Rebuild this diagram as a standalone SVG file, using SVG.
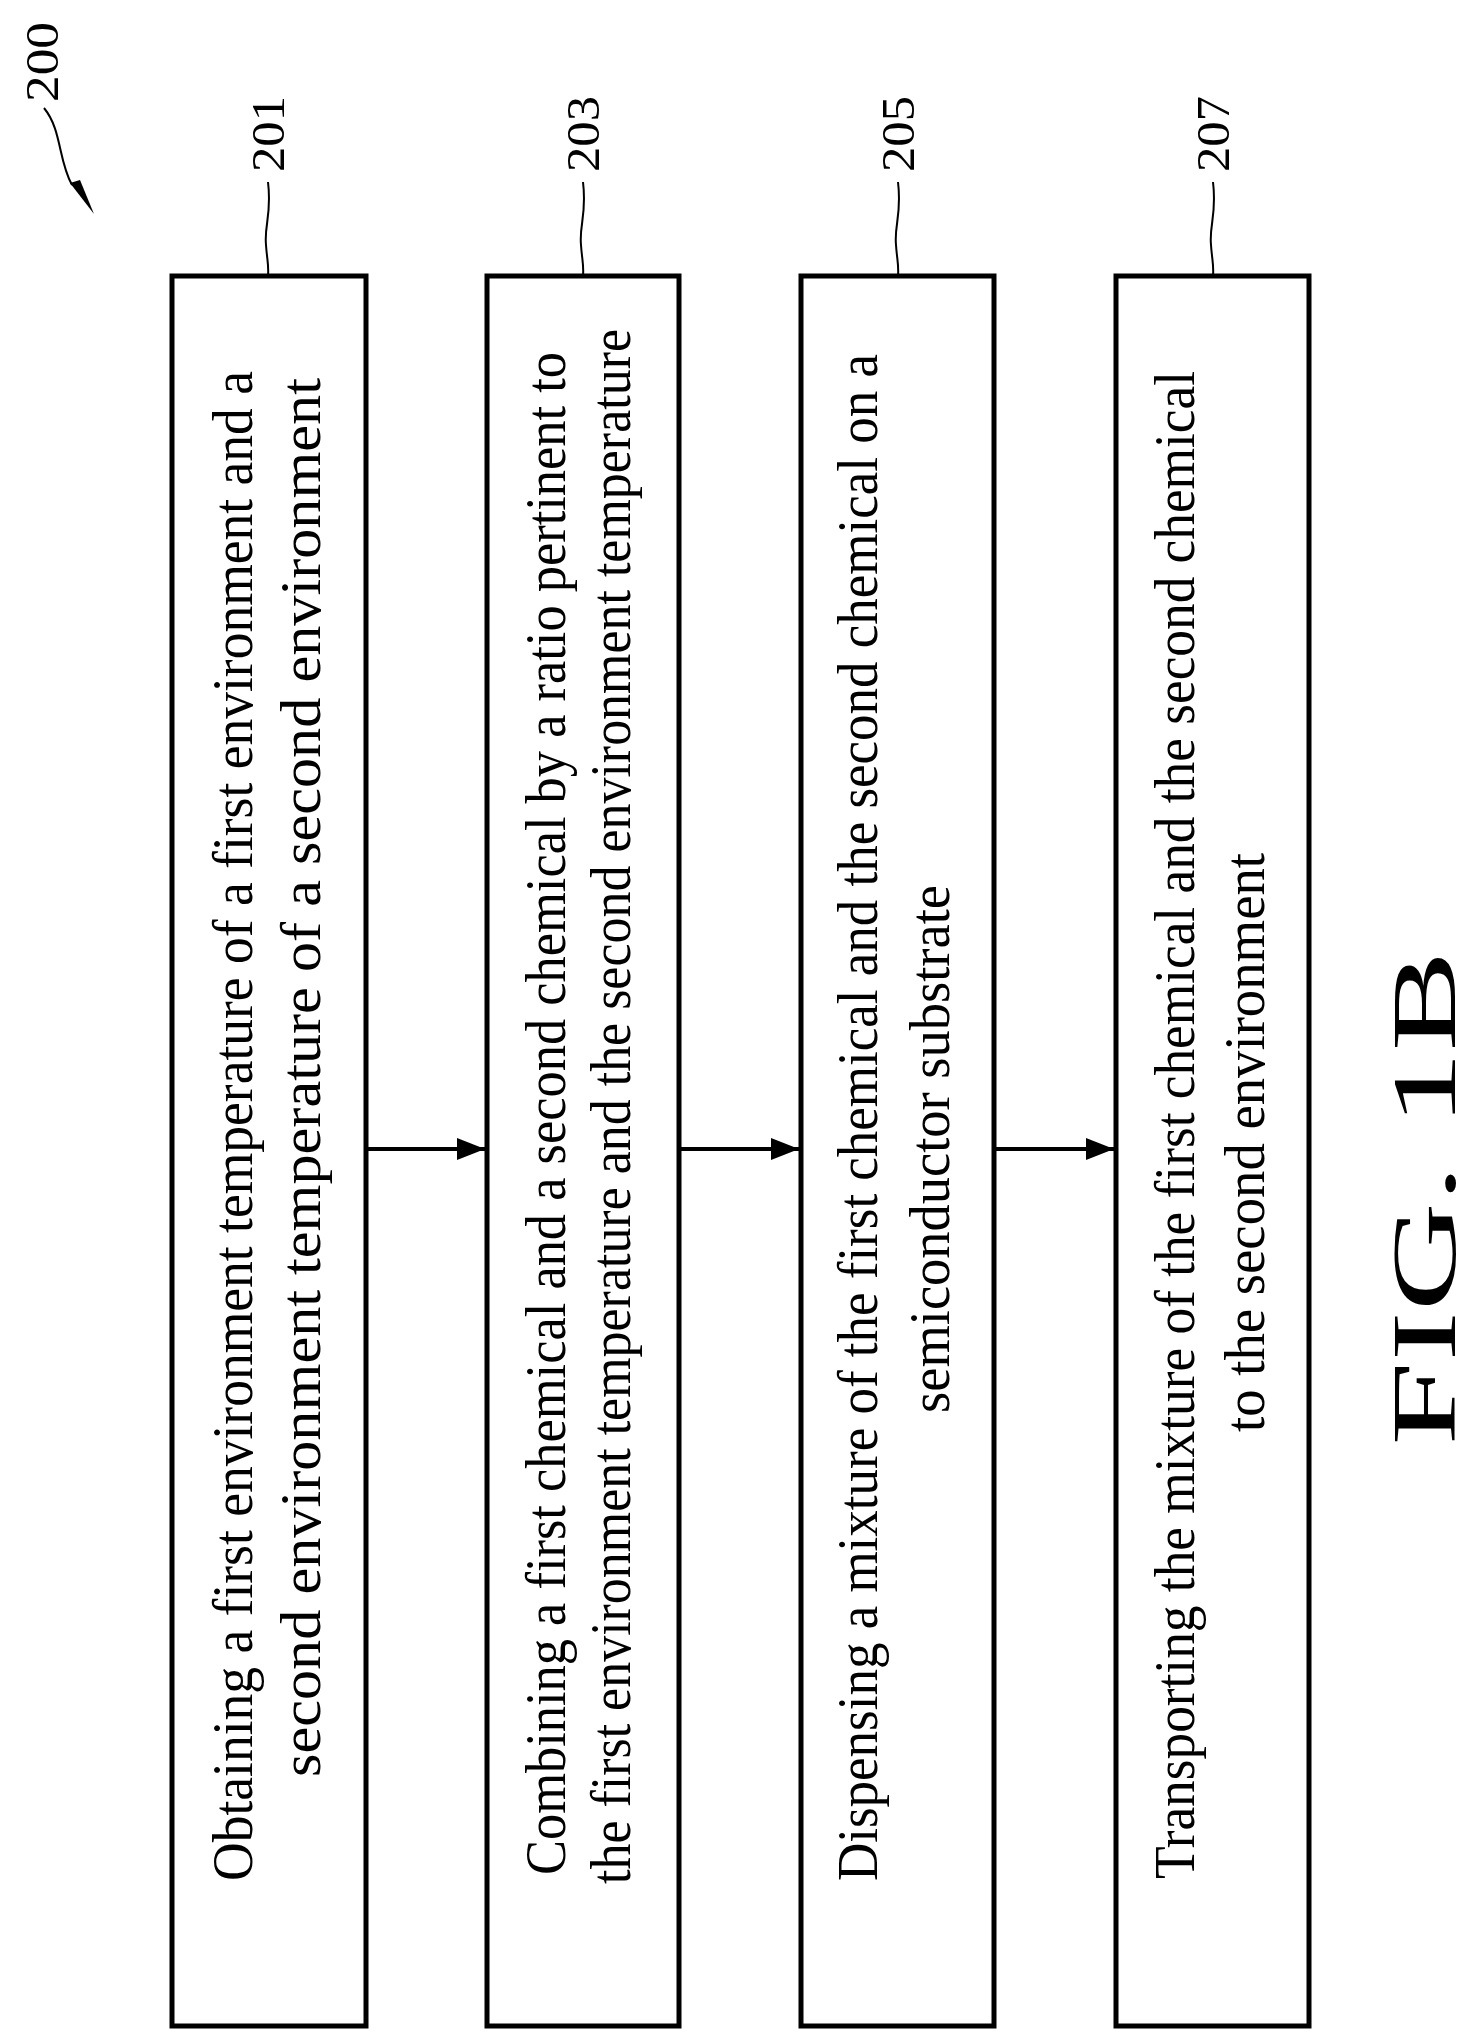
<svg xmlns="http://www.w3.org/2000/svg" width="1475" height="2042" viewBox="0 0 1475 2042">
<style>
.box{fill:#fff;stroke:#000;stroke-width:5}
.t{font-family:"Liberation Serif","Times New Roman",serif;font-size:56px;fill:#000}
.n{font-family:"Liberation Serif","Times New Roman",serif;font-size:46px;fill:#000}
.lead{fill:none;stroke:#000;stroke-width:2}
.con{stroke:#000;stroke-width:4;fill:none}
</style>
<defs>
<marker id="ah" markerWidth="28" markerHeight="22" refX="28" refY="11" orient="auto" markerUnits="userSpaceOnUse" viewBox="0 0 28 22">
<path d="M0,0 L28,11 L0,22 Z" fill="#000"/>
</marker>
</defs>
<g id="ref200">
<text class="n" transform="translate(58,102) rotate(-90)" textLength="80" lengthAdjust="spacingAndGlyphs">200</text>
<path d="M44,108 C62,130 58,160 72,185" class="lead"/>
<path d="M94,214 L70,183 L80,180 Z" fill="#000"/>
</g>
<g id="n201">
<rect class="box" x="172" y="276" width="194" height="1750"/>
<text class="t" transform="translate(252,1881) rotate(-90)" textLength="1510" lengthAdjust="spacingAndGlyphs">Obtaining a first environment temperature of a first environment and a</text>
<text class="t" transform="translate(320,1777) rotate(-90)" textLength="1399" lengthAdjust="spacingAndGlyphs">second environment temperature of a second environment</text>
<text class="n" transform="translate(284,172) rotate(-90)" textLength="76" lengthAdjust="spacingAndGlyphs">201</text>
<path class="lead" d="M268,182 C272,215 264,225 266,245 C267,260 269,265 268,276"/>
</g>
<g id="n203">
<rect class="box" x="487" y="276" width="192" height="1750"/>
<text class="t" transform="translate(565,1875) rotate(-90)" textLength="1523" lengthAdjust="spacingAndGlyphs">Combining a first chemical and a second chemical by a ratio pertinent to</text>
<text class="t" transform="translate(630,1884) rotate(-90)" textLength="1555" lengthAdjust="spacingAndGlyphs">the first environment temperature and the second environment temperature</text>
<text class="n" transform="translate(599,172) rotate(-90)" textLength="76" lengthAdjust="spacingAndGlyphs">203</text>
<path class="lead" d="M583,182 C587,215 579,225 581,245 C582,260 584,265 583,276"/>
</g>
<g id="n205">
<rect class="box" x="801" y="276" width="193" height="1750"/>
<text class="t" transform="translate(877,1881) rotate(-90)" textLength="1527" lengthAdjust="spacingAndGlyphs">Dispensing a mixture of the first chemical and the second chemical on a</text>
<text class="t" transform="translate(949,1413) rotate(-90)" textLength="528" lengthAdjust="spacingAndGlyphs">semiconductor substrate</text>
<text class="n" transform="translate(914,172) rotate(-90)" textLength="76" lengthAdjust="spacingAndGlyphs">205</text>
<path class="lead" d="M898,182 C902,215 894,225 896,245 C897,260 899,265 898,276"/>
</g>
<g id="n207">
<rect class="box" x="1116" y="276" width="193" height="1750"/>
<text class="t" transform="translate(1194,1879) rotate(-90)" textLength="1508" lengthAdjust="spacingAndGlyphs">Transporting the mixture of the first chemical and the second chemical</text>
<text class="t" transform="translate(1264,1432) rotate(-90)" textLength="579" lengthAdjust="spacingAndGlyphs">to the second environment</text>
<text class="n" transform="translate(1229,172) rotate(-90)" textLength="76" lengthAdjust="spacingAndGlyphs">207</text>
<path class="lead" d="M1213,182 C1217,215 1209,225 1211,245 C1212,260 1214,265 1213,276"/>
</g>
<g id="connectors">
<line class="con" x1="366" y1="1149" x2="485" y2="1149" marker-end="url(#ah)"/>
<line class="con" x1="679" y1="1149" x2="799" y2="1149" marker-end="url(#ah)"/>
<line class="con" x1="994" y1="1149" x2="1114" y2="1149" marker-end="url(#ah)"/>
</g>
<text id="fig" font-family="Liberation Serif,Times New Roman,serif" font-size="92" text-anchor="middle" transform="translate(1455,1198) rotate(-90)" textLength="495" lengthAdjust="spacingAndGlyphs">FIG. 1B</text>
</svg>
